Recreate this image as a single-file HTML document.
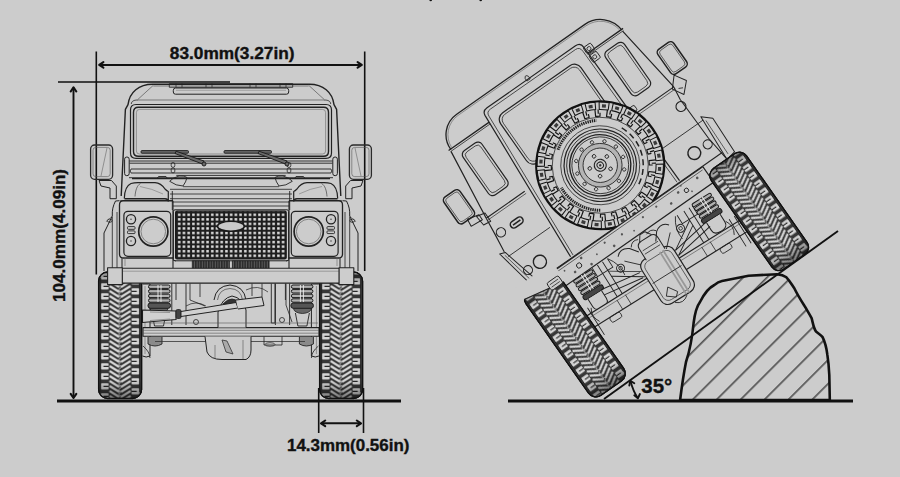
<!DOCTYPE html>
<html><head><meta charset="utf-8">
<style>
html,body{margin:0;padding:0;background:#cccccc;width:900px;height:477px;overflow:hidden}
svg{display:block}
.t{font-family:"Liberation Sans",sans-serif;font-weight:bold;fill:#111;stroke:#111;stroke-width:0.35}
</style></head>
<body>
<svg width="900" height="477" viewBox="0 0 900 477">
<defs>
<pattern id="hatch" patternUnits="userSpaceOnUse" width="16.9" height="16.9" patternTransform="translate(715,400) rotate(45)">
<rect x="0" y="0" width="1.7" height="16.9" fill="#555"/>
</pattern>

<pattern id="grillep" patternUnits="userSpaceOnUse" x="176.9" y="212.6" width="4.72" height="4.55">
<rect x="0" y="0" width="4.72" height="4.55" fill="#1e1e1e"/>
<rect x="1.1" y="1.0" width="2.5" height="2.4" fill="#e6e6e6"/>
</pattern>
<pattern id="ventp" patternUnits="userSpaceOnUse" x="0" y="0" width="2.6" height="10">
<rect width="2.6" height="10" fill="#2a2a2a"/>
<rect x="1.6" width="0.8" height="10" fill="#6a6a6a"/>
</pattern>

<pattern id="tread" patternUnits="userSpaceOnUse" x="0" y="0" width="43" height="10">
<rect width="43" height="10" fill="#383838"/>
<g fill="#d6d6d6">
<rect x="2.2" y="1.2" width="7.8" height="6.4" rx="0.8"/>
<rect x="33" y="6.2" width="7.8" height="6.4" rx="0.8"/>
<rect x="33" y="-3.8" width="7.8" height="6.4" rx="0.8"/>
</g>
<path d="M4.8,4.4 H10 M33,9.4 H38.2 M33,-0.6 H38.2" stroke="#2a2a2a" stroke-width="1.2"/>
<g stroke="#d6d6d6" stroke-width="2.2" fill="none" stroke-linecap="butt">
<path d="M11,-6 L20.6,0 M11,-1 L20.6,5 M11,4 L20.6,10 M11,9 L20.6,15 M22.4,0 L32,-6 M22.4,5 L32,-1 M22.4,10 L32,4 M22.4,15 L32,9"/>
</g>
<path d="M21.5,0 L20.3,2.5 L22.7,5 L20.3,7.5 L21.5,10" stroke="#cfcfcf" stroke-width="0.9" fill="none"/>
</pattern>
<linearGradient id="tshade" x1="0" y1="0" x2="0" y2="1">
<stop offset="0" stop-color="#000" stop-opacity="0.35"/>
<stop offset="0.12" stop-color="#000" stop-opacity="0"/>
<stop offset="0.85" stop-color="#000" stop-opacity="0"/>
<stop offset="1" stop-color="#000" stop-opacity="0.45"/>
</linearGradient>
<g id="tire">
<rect x="0" y="0" width="43" height="126.5" rx="9" fill="url(#tread)"/>
<rect x="0" y="0" width="43" height="126.5" rx="9" fill="url(#tshade)"/>
<rect x="0" y="0" width="43" height="126.5" rx="9" fill="none" stroke="#111" stroke-width="1.3"/>
<path d="M2,6 V120 M41,6 V120" stroke="#222" stroke-width="0.9" fill="none"/>
</g>
</defs>
<rect width="900" height="477" fill="#cccccc"/>

<!-- ===== DIMENSIONS LEFT ===== -->
<g stroke="#111" fill="none" stroke-width="1.6">
<line x1="96.3" y1="51.5" x2="96.3" y2="274.5"/>
<line x1="364.7" y1="51.5" x2="364.7" y2="271"/>
<line x1="99" y1="64.9" x2="362" y2="64.9" stroke-width="2"/>
<line x1="58" y1="82" x2="230" y2="82"/>
<line x1="73.5" y1="87.5" x2="73.5" y2="397.5" stroke-width="1.9"/>
<line x1="318.7" y1="388" x2="318.7" y2="433"/>
<line x1="363.5" y1="388" x2="363.5" y2="433"/>
<line x1="321" y1="423.3" x2="361" y2="423.3" stroke-width="2"/>
</g>
<g stroke="#111" fill="none" stroke-width="2.1" stroke-linejoin="round" stroke-linecap="round">
<polyline points="103.4,62.1 99.2,64.9 103.4,67.7"/>
<polyline points="357.6,62.1 361.8,64.9 357.6,67.7"/>
<polyline points="70.7,91.5 73.5,87.3 76.3,91.5"/>
<polyline points="70.7,393.8 73.5,398 76.3,393.8"/>
<polyline points="325.2,420.5 321,423.3 325.2,426.1"/>
<polyline points="356.8,420.5 361,423.3 356.8,426.1"/>
</g>
<line x1="57" y1="401" x2="401" y2="401" stroke="#111" stroke-width="2.8"/>
<text class="t" x="0" y="0" font-size="16" transform="translate(169.8,59.2) scale(1.08,1)">83.0mm(3.27in)</text>
<text class="t" x="0" y="0" font-size="16" transform="translate(287,450.7) scale(1.06,1)">14.3mm(0.56in)</text>
<text class="t" x="0" y="0" font-size="16" transform="translate(65.2,302) rotate(-90) scale(1.07,1)">104.0mm(4.09in)</text>


<!-- ===== FRONT VIEW ===== -->
<g id="front" fill="none" stroke="#222" stroke-width="1" stroke-linejoin="round" stroke-linecap="butt">
 <g id="fhalf">
  <!-- roof -->
  <path d="M231,84.2 H152.7 C139,84.2 129.5,92 128,104.7 L125.4,109.3 L121.2,196" stroke-width="1.4"/>
  <path d="M231,86 H153.3 M153.3,85.3 L138,99.3 M138,100 H231" stroke-width="0.7" stroke="#555"/>
  <path d="M131.3,104 C131.5,101 134,100 138,100" stroke-width="0.8"/>
  <!-- windshield frame -->
  <path d="M231,104.5 H136 Q130.5,104.5 130.5,110 V153 Q130.5,158.3 136,158.3 H231" stroke-width="1.2"/>
  <path d="M231,107.3 H138.5 Q133.5,107.3 133.5,112.3 V151.5 Q133.5,156.3 138.5,156.3 H231" stroke-width="1.4"/>
  <path d="M231,109.4 H139.5 Q136.4,109.4 136.4,112.5 V151 Q136.4,154 139.5,154 H231" stroke-width="0.6" stroke="#666"/>
  <!-- roof vent -->
  <path d="M231,88 H175.5 Q173.3,88 173.3,90.5 V92 Q173.3,94.2 175.5,94.2 H231" stroke-width="1"/>
  <path d="M231,90.3 H176" stroke-width="0.5" stroke="#777"/>
  <path d="M231,83.6 H169.3 V87.3 H231" stroke-width="0.8"/>
  <path d="M176,83.6 V87.3 M182,83.6 V87.3 M206,83.6 V87.3 M212,83.6 V87.3" stroke-width="0.7"/>
  <!-- mirror -->
  <rect x="90.6" y="145" width="22" height="34.3" rx="4" stroke-width="1.3" stroke="#2a2a2a"/>
  <rect x="93" y="147.4" width="17.2" height="29.2" rx="2.8" stroke-width="0.6" stroke="#555"/>
  <path d="M107,148 L101,176" stroke-width="0.6" stroke="#666"/>
  <path d="M99,180.5 H111.5 L116.3,186 V198.7 H110 V188 L101,186 Z" stroke-width="1"/>
  <!-- hinge -->
  <rect x="124.6" y="157" width="4.6" height="18.7" rx="2.2" stroke-width="1"/>
  <!-- cowl -->
  <path d="M129.5,161 H231 M129.5,163.2 H231 M131,169 H231 M131,173 H231 M129,177.7 H231" stroke-width="0.9"/>
  <path d="M131,169 Q129.5,171 131,173" stroke-width="0.8"/>
  <rect x="171.2" y="162.5" width="3.6" height="4.8" rx="1.6" stroke-width="0.8"/>
  <rect x="171.2" y="168" width="3.6" height="4.8" rx="1.6" stroke-width="0.8"/>
  <!-- bonnet & wing -->
  <path d="M124.3,198.5 C124.5,191 126.5,185.5 131,183.5 Q134,182.6 138,182.6 H155 C160,182.8 163,186 165,189 Q167,191 168.3,191.5 V201.5" stroke-width="1.2"/>
  <path d="M135,196.5 C135.5,190 137,185.5 140.5,183.4" stroke-width="0.7" stroke="#444"/>
  <path d="M140,186.5 Q152,188.5 163,194" stroke-width="0.5" stroke="#666"/>
  <path d="M124.5,198.8 H165 Q168,199 168.5,201" stroke-width="1.6"/>
  <path d="M120,200.9 H172.5" stroke-width="0.9"/>
  <path d="M132,178.6 H231" stroke-width="1.2"/>
  <path d="M176.3,175.4 H231" stroke-width="0.9"/>
  <path d="M183,186.7 H231 M170,189.3 H231 M170,194 H231 M170,198.7 H231 M172.3,202 H231 M173,206 H231" stroke-width="0.8"/>
  <path d="M172.3,191 V210" stroke-width="0.9"/>
  <path d="M169.7,181.3 Q172,178 179,176 Q185,175.5 187,177.5 Q186,182 183,186 Q176,186 169.7,181.3 Z" stroke-width="0.9"/>
  <path d="M157,178.6 L158.5,176.5 H166 L167.5,178.6" stroke-width="0.9"/>
  <!-- headlight surround -->
  <path d="M173,258 H123.5 Q119.5,258 119.5,254 V205 Q119.5,200.7 123.5,200.7 H173" stroke-width="1.3"/>
  <path d="M173,200.7 V268.3" stroke-width="1.1"/>
  <rect x="123.9" y="211.3" width="46.8" height="45" rx="4" stroke-width="1.2"/>
  <path d="M125,256.7 V266 M122,258 V268.3" stroke-width="0.6" stroke="#666"/>
  <circle cx="153.3" cy="231.5" r="14.6" stroke-width="1.7"/>
  <circle cx="153.3" cy="231.5" r="12.3" stroke-width="0.7" stroke="#666"/>
  <circle cx="131" cy="219.3" r="4.6" stroke-width="1.3"/>
  <circle cx="131" cy="241" r="4.6" stroke-width="1.3"/>
  <circle cx="131" cy="219.3" r="0.7" fill="#333" stroke="none"/>
  <circle cx="131" cy="241" r="0.7" fill="#333" stroke="none"/>
  <rect x="127.5" y="226.6" width="7.5" height="2.7" rx="0.8" stroke-width="0.9"/>
  <rect x="127.5" y="230.9" width="7.5" height="2.7" rx="0.8" stroke-width="0.9"/>
  <!-- grille surround -->
  <path d="M231,209.8 H175 Q173.4,209.8 173.4,211.5 V259.5 Q173.4,260.8 175,260.8 H231" stroke-width="1"/>
  <!-- body side -->
  <path d="M119.5,200.7 L115.5,201 C113,206 112,210 112.3,216 L104,233 V271" stroke-width="1"/>
  <path d="M112.3,217 V268 M117,212 V268" stroke-width="0.8"/>
  <path d="M112.3,216 C111,218 108,219 106,222" stroke-width="0.6" stroke="#555"/>
  <ellipse cx="109.7" cy="220.7" rx="2.4" ry="1.6" stroke-width="0.8"/>
  <!-- apron -->
  <path d="M122,258 V268.3 M173,260 L176,261" stroke-width="0.8"/>
 </g>
 <use href="#fhalf" transform="matrix(-1,0,0,1,462,0)"/>


<!-- wipers -->
<g stroke="#1a1a1a" fill="#6a6a6a">
<rect x="141" y="150.6" width="47.5" height="2.6" rx="1" stroke-width="0.9"/>
<path d="M176,151.2 L204,161 L202.5,164 L175,153.5 Z" stroke-width="0.9"/>
<circle cx="204" cy="164" r="2" stroke-width="0.9"/>
<rect x="224" y="150.6" width="47.5" height="2.6" rx="1" stroke-width="0.9"/>
<path d="M259,151.2 L287,161 L285.5,164 L258,153.5 Z" stroke-width="0.9"/>
<circle cx="287" cy="164" r="2" stroke-width="0.9"/>
</g>
<!-- grille (full) -->
<rect x="175.6" y="211.2" width="110.6" height="47.8" rx="1.5" fill="url(#grillep)" stroke="#1a1a1a" stroke-width="1.2"/>
<ellipse cx="230.9" cy="226.3" rx="13.4" ry="5" fill="#c9c9c9" stroke="#1a1a1a" stroke-width="1.6"/>
<rect x="192.3" y="260.8" width="37.1" height="8.6" fill="url(#ventp)" stroke="#222" stroke-width="0.8"/>
<rect x="232.4" y="260.8" width="36.7" height="8.6" fill="url(#ventp)" stroke="#222" stroke-width="0.8"/>


<!-- underside -->
<g id="uhalf">
 <!-- hub / knuckle -->
 <path d="M142.5,284 H150 V356 Q146,358 142.5,356" stroke-width="1"/>
 <path d="M145,286 V354" stroke="#666" stroke-width="0.6"/>
 <!-- chassis rail behind spring -->
 <path d="M171.8,283.5 V325 M186,283.5 V325 M176,283.5 V300" stroke-width="0.9"/>
 <!-- spring -->
 <g stroke="#1a1a1a">
 <rect x="148.5" y="285" width="21.5" height="3.4" rx="1.6" fill="#b0b0b0" stroke-width="1"/>
 <rect x="148.5" y="289.6" width="21.5" height="3.4" rx="1.6" fill="#b0b0b0" stroke-width="1"/>
 <rect x="148.5" y="294.2" width="21.5" height="3.4" rx="1.6" fill="#b0b0b0" stroke-width="1"/>
 <rect x="148.5" y="298.8" width="21.5" height="3.4" rx="1.6" fill="#b0b0b0" stroke-width="1"/>
 <rect x="148" y="303" width="22.5" height="5.3" rx="2.4" fill="#555" stroke-width="1"/>
 </g>
 <path d="M158,285 V302 M161,285 V302" stroke="#eee" stroke-width="0.9"/>
 <!-- shock below spring -->
 <path d="M152,313 L154.5,326 H163.5 L166,313" stroke-width="0.9"/>
 <!-- axle stub / lower bump -->
 <path d="M148,337 V344 Q155,348 162,344 V337" fill="#8a8a8a" stroke-width="0.9"/>
 <path d="M150,308.5 Q151,313 159,313.5 Q167,313 168,308.5 Z" fill="#666" stroke-width="0.8"/>
 <path d="M143,346 Q150,352 150,358" stroke-width="0.8"/>
</g>
<use href="#uhalf" transform="matrix(-1,0,0,1,461.4,0)"/>
<!-- axle -->
<rect x="143" y="327.6" width="176" height="8.6" fill="#cfcfcf" stroke="#222" stroke-width="1.1"/>
<path d="M143,330.3 H319 M143,333.2 H319" stroke="#555" stroke-width="0.6"/>
<path d="M155,341.5 H305" stroke="#333" stroke-width="0.8"/>
<!-- diff -->
<path d="M205,336.5 L207,352 Q210,359.5 222,359.5 H246 Q251,357 251,350 V336.5" fill="#cbcbcb" stroke="#222" stroke-width="1"/>
<path d="M222,340 L226,352 L233,354 L227,341 Z" fill="#aaa" stroke="#333" stroke-width="0.8"/>
<path d="M215,359 V345 M243,359 V340" stroke="#555" stroke-width="0.6"/>
<path d="M264,336.5 V345 H282 V336.5" stroke-width="0.8"/>
<ellipse cx="270" cy="344.5" rx="5" ry="1.8" stroke-width="0.7"/>
<!-- diff top (pumpkin) -->
<path d="M218,327.6 V312 Q222,298 232,296 Q243,298 246,310 V327.6" fill="#cdcdcd" stroke="#222" stroke-width="1"/>
<path d="M223,304 Q232,294 241,304 Z" fill="#333" stroke="#222" stroke-width="0.8"/>
<path d="M214,300 Q216,286 230,285 Q244,286 246,300" fill="none" stroke="#222" stroke-width="1"/>
<path d="M217.5,300 Q219,289 230,288.5 Q241,289 242.5,300" fill="none" stroke="#444" stroke-width="0.7"/>
<!-- track rod -->
<path d="M142.5,310 L176,311 L176,319.5 L142.5,322.5 Z" fill="#d0d0d0" stroke="#222" stroke-width="1.1"/>
<path d="M150,312 L170,312.5 M150,320.5 L170,319" stroke="#666" stroke-width="0.6"/>
<rect x="176" y="309.5" width="5" height="9" rx="1.5" fill="#444" stroke="#222" stroke-width="0.8"/>
<path d="M181,311.5 L236,302.5 L238,308 L181,316.5 Z" fill="#d0d0d0" stroke="#222" stroke-width="1"/>
<path d="M236,300 L262,297 L264,305.5 L238,309" fill="#d0d0d0" stroke="#222" stroke-width="1"/>
<!-- central vertical rod & bits -->
<path d="M271.3,283.5 V323 H275 V283.5" stroke-width="0.9"/>
<path d="M190,283.5 V300 L205,306 M200,283.5 V297 M252,283.5 V296 M262,283.5 V297 M286,283.5 V305 L292,322" stroke-width="0.8"/>
<path d="M186,306 Q196,300 206,306 M246,290 Q258,284 268,292" stroke-width="0.7"/>
<circle cx="196" cy="322" r="2.5" stroke-width="0.8"/>
<circle cx="282" cy="320" r="2.5" stroke-width="0.8"/>
<path d="M150,323 H318" stroke="#555" stroke-width="0.6"/>
<!-- tires -->
<use href="#tire" transform="translate(98.6,272)"/>
<use href="#tire" transform="translate(319.6,272)"/>
<!-- bumper -->
<rect x="122" y="268.3" width="217.4" height="14.8" fill="#cdcdcd" stroke="#222" stroke-width="1.1"/>
<path d="M122,271.2 H339.4" stroke="#777" stroke-width="0.6"/>
<rect x="107.6" y="267.8" width="14.7" height="16.8" fill="#cdcdcd" stroke="#222" stroke-width="1.1"/>
<rect x="339.1" y="267.8" width="14.7" height="16.8" fill="#cdcdcd" stroke="#222" stroke-width="1.1"/>
</g>

<!-- ===== RIGHT SCENE ===== -->
<!-- ===== REAR VIEW (rotated) ===== -->
<g id="rear" transform="translate(600.25,165.25) rotate(-35) translate(-239.8,-210)" fill="none" stroke="#222" stroke-width="1" stroke-linejoin="round">
 <!-- roof -->
 <path d="M126.5,111.5 A25,25 0 0 1 151.5,85.8 H308 A27,27 0 0 1 335,111.5" stroke-width="1.3" fill="#cccccc"/>
 <path d="M128.3,110 A23.5,23.5 0 0 1 151.5,87.6 H308 A25.3,25.3 0 0 1 333.2,110" stroke-width="0.5" stroke="#555"/>
 <path d="M124,111 H173.6 M294.2,111 H337" stroke-width="1.3"/>
 <path d="M125,113 H173.4 M294.4,113 H336" stroke-width="0.7"/>
 <!-- upper body sides -->
 <path d="M125.5,113 L116,188 M335,113 L345,188" stroke-width="1.2"/>
 <!-- quarter windows -->
 <rect x="132" y="120" width="23" height="54" rx="5" stroke-width="1.2"/>
 <rect x="134.5" y="122.5" width="18" height="49" rx="4" stroke-width="0.7"/>
 <rect x="306" y="120" width="23" height="54" rx="5" stroke-width="1.2"/>
 <rect x="308.5" y="122.5" width="18" height="49" rx="4" stroke-width="0.7"/>
 <!-- door -->
 <path d="M163,268 L174,103 Q174.5,98 180,98 H288 Q294,98 294,104 L296,268" stroke-width="1.2"/>
 <path d="M166,268 L176.8,106 Q177,101 182,101 H286 Q291,101 291,107 L293,268" stroke-width="0.7"/>
 <rect x="182" y="111" width="98" height="61" rx="8" stroke-width="1.2"/>
 <rect x="184.5" y="113.5" width="93" height="56" rx="6.5" stroke-width="0.7"/>
 <path d="M228,96 Q230,92 232,96 L232,99 H228 Z" stroke-width="0.8"/>
 <!-- hinges right of door -->
 <rect x="293" y="104" width="9" height="8" rx="1.5" stroke-width="0.9"/>
 <circle cx="297.5" cy="108" r="2" stroke-width="0.8"/>
 <rect x="293" y="114" width="9" height="8" rx="1.5" stroke-width="0.9"/>
 <circle cx="297.5" cy="118" r="2" stroke-width="0.8"/>
 <rect x="294" y="180" width="8" height="6" rx="1.5" stroke-width="0.9"/>
 <!-- belt line & lower body -->
 <path d="M116,188 H163 M296,188 H345" stroke-width="1.1"/>
 <path d="M116,190.5 H163 M296,190.5 H345" stroke-width="0.6"/>
 <path d="M116,188 L114,206 L111.5,226 M345,188 L343,202 L344,250 L347,277" stroke-width="1.1"/>
 <path d="M106.5,225 L112,227 L122,268 L115,269.5 Z" stroke-width="1"/>
 <path d="M110,229 L117.5,266" stroke-width="0.6"/>
 <path d="M115,269.5 H347" stroke-width="1.1"/>
 <path d="M112,232 H163 M296,232 H350" stroke-width="0.8"/>
 <!-- tail lights -->
 <circle cx="120" cy="208" r="4.6" stroke-width="1.1"/>
 <rect x="131.5" y="205.5" width="14" height="7" rx="3.5" stroke-width="1.5"/>
 <path d="M134,209 H143" stroke-width="1.6"/>
 <circle cx="135" cy="254.5" r="6.6" stroke-width="1.4"/>
 <circle cx="120.5" cy="254.4" r="4.5" stroke-width="1.1"/>
 <circle cx="339.6" cy="208.2" r="5" stroke-width="1.1"/>
 <circle cx="323.8" cy="254" r="6.4" stroke-width="1.4"/>
 <circle cx="339.8" cy="254.5" r="4.5" stroke-width="1.1"/>
 <!-- mirrors -->
 <rect x="90.5" y="147" width="19.5" height="32" rx="4" stroke-width="1.5"/>
 <rect x="92.5" y="149" width="15.5" height="28" rx="3" stroke-width="0.6"/>
 <path d="M100,178 L112,181 L112,187 L99,186 Z" stroke-width="1"/>
 <path d="M109,181 L118,183 L118,193 L110,192 Z" stroke-width="1"/>
 <rect x="350.5" y="148.5" width="19.5" height="30" rx="4" stroke-width="1.5"/>
 <rect x="352.5" y="150.5" width="15.5" height="26" rx="3" stroke-width="0.6"/>
 <path d="M352,178.5 L359,190 L349,200 L342.5,189 Z" stroke-width="1"/>
 <path d="M348,192 L352,194" stroke-width="0.8"/>
 <!-- right side light strip -->
 <path d="M350,228 L359,236 L357.5,276 L347,278 Z" stroke-width="1"/>
 <path d="M352,234 L351,274" stroke-width="0.6"/>

 <!-- spare tire -->
 <g id="spare">
 <circle cx="239.8" cy="210" r="64" fill="#cccccc" stroke="#111" stroke-width="2"/>
 <path d="M295.4,205.5 L302.8,204.9 A63.2,63.2 0 0 1 302.8,215.1 L295.4,214.5 A55.8,55.8 0 0 0 295.4,205.5Z M295.0,218.0 L302.3,219.1 A63.2,63.2 0 0 1 300.1,229.0 L293.0,226.7 A55.8,55.8 0 0 0 295.0,218.0Z M291.9,230.1 L298.8,232.8 A63.2,63.2 0 0 1 294.4,241.9 L288.0,238.2 A55.8,55.8 0 0 0 291.9,230.1Z M286.1,241.2 L292.2,245.3 A63.2,63.2 0 0 1 285.9,253.2 L280.5,248.2 A55.8,55.8 0 0 0 286.1,241.2Z M278.0,250.7 L283.0,256.1 A63.2,63.2 0 0 1 275.1,262.4 L271.0,256.3 A55.8,55.8 0 0 0 278.0,250.7Z M268.0,258.2 L271.7,264.6 A63.2,63.2 0 0 1 262.6,269.0 L259.9,262.1 A55.8,55.8 0 0 0 268.0,258.2Z M256.5,263.2 L258.8,270.3 A63.2,63.2 0 0 1 248.9,272.5 L247.8,265.2 A55.8,55.8 0 0 0 256.5,263.2Z M244.3,265.6 L244.9,273.0 A63.2,63.2 0 0 1 234.7,273.0 L235.3,265.6 A55.8,55.8 0 0 0 244.3,265.6Z M231.8,265.2 L230.7,272.5 A63.2,63.2 0 0 1 220.8,270.3 L223.1,263.2 A55.8,55.8 0 0 0 231.8,265.2Z M219.7,262.1 L217.0,269.0 A63.2,63.2 0 0 1 207.9,264.6 L211.6,258.2 A55.8,55.8 0 0 0 219.7,262.1Z M208.6,256.3 L204.5,262.4 A63.2,63.2 0 0 1 196.6,256.1 L201.6,250.7 A55.8,55.8 0 0 0 208.6,256.3Z M199.1,248.2 L193.7,253.2 A63.2,63.2 0 0 1 187.4,245.3 L193.5,241.2 A55.8,55.8 0 0 0 199.1,248.2Z M191.6,238.2 L185.2,241.9 A63.2,63.2 0 0 1 180.8,232.8 L187.7,230.1 A55.8,55.8 0 0 0 191.6,238.2Z M186.6,226.7 L179.5,229.0 A63.2,63.2 0 0 1 177.3,219.1 L184.6,218.0 A55.8,55.8 0 0 0 186.6,226.7Z M184.2,214.5 L176.8,215.1 A63.2,63.2 0 0 1 176.8,204.9 L184.2,205.5 A55.8,55.8 0 0 0 184.2,214.5Z M184.6,202.0 L177.3,200.9 A63.2,63.2 0 0 1 179.5,191.0 L186.6,193.3 A55.8,55.8 0 0 0 184.6,202.0Z M187.7,189.9 L180.8,187.2 A63.2,63.2 0 0 1 185.2,178.1 L191.6,181.8 A55.8,55.8 0 0 0 187.7,189.9Z M193.5,178.8 L187.4,174.7 A63.2,63.2 0 0 1 193.7,166.8 L199.1,171.8 A55.8,55.8 0 0 0 193.5,178.8Z M201.6,169.3 L196.6,163.9 A63.2,63.2 0 0 1 204.5,157.6 L208.6,163.7 A55.8,55.8 0 0 0 201.6,169.3Z M211.6,161.8 L207.9,155.4 A63.2,63.2 0 0 1 217.0,151.0 L219.7,157.9 A55.8,55.8 0 0 0 211.6,161.8Z M223.1,156.8 L220.8,149.7 A63.2,63.2 0 0 1 230.7,147.5 L231.8,154.8 A55.8,55.8 0 0 0 223.1,156.8Z M235.3,154.4 L234.7,147.0 A63.2,63.2 0 0 1 244.9,147.0 L244.3,154.4 A55.8,55.8 0 0 0 235.3,154.4Z M247.8,154.8 L248.9,147.5 A63.2,63.2 0 0 1 258.8,149.7 L256.5,156.8 A55.8,55.8 0 0 0 247.8,154.8Z M259.9,157.9 L262.6,151.0 A63.2,63.2 0 0 1 271.7,155.4 L268.0,161.8 A55.8,55.8 0 0 0 259.9,157.9Z M271.0,163.7 L275.1,157.6 A63.2,63.2 0 0 1 283.0,163.9 L278.0,169.3 A55.8,55.8 0 0 0 271.0,163.7Z M280.5,171.8 L285.9,166.8 A63.2,63.2 0 0 1 292.2,174.7 L286.1,178.8 A55.8,55.8 0 0 0 280.5,171.8Z M288.0,181.8 L294.4,178.1 A63.2,63.2 0 0 1 298.8,187.2 L291.9,189.9 A55.8,55.8 0 0 0 288.0,181.8Z M293.0,193.3 L300.1,191.0 A63.2,63.2 0 0 1 302.3,200.9 L295.0,202.0 A55.8,55.8 0 0 0 293.0,193.3Z" stroke="#151515" stroke-width="1.05"/>
 <path d="M297.6,208.1 L300.8,208.0 A61,61 0 0 1 300.8,212.0 L297.6,211.9 A57.8,57.8 0 0 0 297.6,208.1Z M296.5,221.0 L299.7,221.6 A61,61 0 0 1 298.8,225.5 L295.7,224.7 A57.8,57.8 0 0 0 296.5,221.0Z M292.7,233.3 L295.6,234.6 A61,61 0 0 1 293.9,238.3 L291.0,236.8 A57.8,57.8 0 0 0 292.7,233.3Z M286.2,244.5 L288.7,246.4 A61,61 0 0 1 286.2,249.6 L283.8,247.5 A57.8,57.8 0 0 0 286.2,244.5Z M277.3,254.0 L279.4,256.4 A61,61 0 0 1 276.2,258.9 L274.3,256.4 A57.8,57.8 0 0 0 277.3,254.0Z M266.6,261.2 L268.1,264.1 A61,61 0 0 1 264.4,265.8 L263.1,262.9 A57.8,57.8 0 0 0 266.6,261.2Z M254.5,265.9 L255.3,269.0 A61,61 0 0 1 251.4,269.9 L250.8,266.7 A57.8,57.8 0 0 0 254.5,265.9Z M241.7,267.8 L241.8,271.0 A61,61 0 0 1 237.8,271.0 L237.9,267.8 A57.8,57.8 0 0 0 241.7,267.8Z M228.8,266.7 L228.2,269.9 A61,61 0 0 1 224.3,269.0 L225.1,265.9 A57.8,57.8 0 0 0 228.8,266.7Z M216.5,262.9 L215.2,265.8 A61,61 0 0 1 211.5,264.1 L213.0,261.2 A57.8,57.8 0 0 0 216.5,262.9Z M205.3,256.4 L203.4,258.9 A61,61 0 0 1 200.2,256.4 L202.3,254.0 A57.8,57.8 0 0 0 205.3,256.4Z M195.8,247.5 L193.4,249.6 A61,61 0 0 1 190.9,246.4 L193.4,244.5 A57.8,57.8 0 0 0 195.8,247.5Z M188.6,236.8 L185.7,238.3 A61,61 0 0 1 184.0,234.6 L186.9,233.3 A57.8,57.8 0 0 0 188.6,236.8Z M183.9,224.7 L180.8,225.5 A61,61 0 0 1 179.9,221.6 L183.1,221.0 A57.8,57.8 0 0 0 183.9,224.7Z M182.0,211.9 L178.8,212.0 A61,61 0 0 1 178.8,208.0 L182.0,208.1 A57.8,57.8 0 0 0 182.0,211.9Z M183.1,199.0 L179.9,198.4 A61,61 0 0 1 180.8,194.5 L183.9,195.3 A57.8,57.8 0 0 0 183.1,199.0Z M186.9,186.7 L184.0,185.4 A61,61 0 0 1 185.7,181.7 L188.6,183.2 A57.8,57.8 0 0 0 186.9,186.7Z M193.4,175.5 L190.9,173.6 A61,61 0 0 1 193.4,170.4 L195.8,172.5 A57.8,57.8 0 0 0 193.4,175.5Z M202.3,166.0 L200.2,163.6 A61,61 0 0 1 203.4,161.1 L205.3,163.6 A57.8,57.8 0 0 0 202.3,166.0Z M213.0,158.8 L211.5,155.9 A61,61 0 0 1 215.2,154.2 L216.5,157.1 A57.8,57.8 0 0 0 213.0,158.8Z M225.1,154.1 L224.3,151.0 A61,61 0 0 1 228.2,150.1 L228.8,153.3 A57.8,57.8 0 0 0 225.1,154.1Z M237.9,152.2 L237.8,149.0 A61,61 0 0 1 241.8,149.0 L241.7,152.2 A57.8,57.8 0 0 0 237.9,152.2Z M250.8,153.3 L251.4,150.1 A61,61 0 0 1 255.3,151.0 L254.5,154.1 A57.8,57.8 0 0 0 250.8,153.3Z M263.1,157.1 L264.4,154.2 A61,61 0 0 1 268.1,155.9 L266.6,158.8 A57.8,57.8 0 0 0 263.1,157.1Z M274.3,163.6 L276.2,161.1 A61,61 0 0 1 279.4,163.6 L277.3,166.0 A57.8,57.8 0 0 0 274.3,163.6Z M283.8,172.5 L286.2,170.4 A61,61 0 0 1 288.7,173.6 L286.2,175.5 A57.8,57.8 0 0 0 283.8,172.5Z M291.0,183.2 L293.9,181.7 A61,61 0 0 1 295.6,185.4 L292.7,186.7 A57.8,57.8 0 0 0 291.0,183.2Z M295.7,195.3 L298.8,194.5 A61,61 0 0 1 299.7,198.4 L296.5,199.0 A57.8,57.8 0 0 0 295.7,195.3Z" fill="#3a3a3a" stroke="none"/>
 <path d="M295.5,213.7 L288.7,213.3 L288.2,217.7 L291.6,218.2 M295.2,216.8 L290.9,216.3 M293.3,226.0 L286.7,224.1 L285.3,228.3 L288.5,229.6 M292.3,229.0 L288.2,227.5 M288.3,237.5 L282.4,234.2 L280.1,237.9 L282.9,239.9 M286.7,240.2 L283.1,237.9 M281.0,247.6 L276.0,243.0 L272.8,246.2 L275.2,248.8 M278.8,249.9 L275.8,246.8 M271.6,255.9 L267.7,250.3 L264.0,252.6 L265.7,255.7 M269.0,257.6 L266.7,253.9 M260.6,261.8 L258.1,255.5 L253.9,256.9 L254.9,260.3 M257.7,262.9 L256.3,258.8 M248.6,265.1 L247.5,258.4 L243.1,258.9 L243.3,262.4 M245.5,265.5 L245.0,261.2 M236.1,265.7 L236.5,258.9 L232.1,258.4 L231.6,261.8 M233.0,265.4 L233.5,261.1 M223.8,263.5 L225.7,256.9 L221.5,255.5 L220.2,258.7 M220.8,262.5 L222.3,258.4 M212.3,258.5 L215.6,252.6 L211.9,250.3 L209.9,253.1 M209.6,256.9 L211.9,253.3 M202.2,251.2 L206.8,246.2 L203.6,243.0 L201.0,245.4 M199.9,249.0 L203.0,246.0 M193.9,241.8 L199.5,237.9 L197.2,234.2 L194.1,235.9 M192.2,239.2 L195.9,236.9 M188.0,230.8 L194.3,228.3 L192.9,224.1 L189.5,225.1 M186.9,227.9 L191.0,226.5 M184.7,218.8 L191.4,217.7 L190.9,213.3 L187.4,213.5 M184.3,215.7 L188.6,215.2 M184.1,206.3 L190.9,206.7 L191.4,202.3 L188.0,201.8 M184.4,203.2 L188.7,203.7 M186.3,194.0 L192.9,195.9 L194.3,191.7 L191.1,190.4 M187.3,191.0 L191.4,192.5 M191.3,182.5 L197.2,185.8 L199.5,182.1 L196.7,180.1 M192.9,179.8 L196.5,182.1 M198.6,172.4 L203.6,177.0 L206.8,173.8 L204.4,171.2 M200.8,170.1 L203.8,173.2 M208.0,164.1 L211.9,169.7 L215.6,167.4 L213.9,164.3 M210.6,162.4 L212.9,166.1 M219.0,158.2 L221.5,164.5 L225.7,163.1 L224.7,159.7 M221.9,157.1 L223.3,161.2 M231.0,154.9 L232.1,161.6 L236.5,161.1 L236.3,157.6 M234.1,154.5 L234.6,158.8 M243.5,154.3 L243.1,161.1 L247.5,161.6 L248.0,158.2 M246.6,154.6 L246.1,158.9 M255.8,156.5 L253.9,163.1 L258.1,164.5 L259.4,161.3 M258.8,157.5 L257.3,161.6 M267.3,161.5 L264.0,167.4 L267.7,169.7 L269.7,166.9 M270.0,163.1 L267.7,166.7 M277.4,168.8 L272.8,173.8 L276.0,177.0 L278.6,174.6 M279.7,171.0 L276.6,174.0 M285.7,178.2 L280.1,182.1 L282.4,185.8 L285.5,184.1 M287.4,180.8 L283.7,183.1 M291.6,189.2 L285.3,191.7 L286.7,195.9 L290.1,194.9 M292.7,192.1 L288.6,193.5 M294.9,201.2 L288.2,202.3 L288.7,206.7 L292.2,206.5 M295.3,204.3 L291.0,204.8" stroke="#151515" stroke-width="1.2"/>
 <circle cx="239.8" cy="210" r="48" stroke-width="0.7"/>
 <path d="M214.0,173.1 A45,45 0 0 1 262.3,171.0 M214.0,246.9 A45,45 0 0 1 195.0,206.1" stroke="#222" stroke-width="3" stroke-dasharray="1.4 0.8"/>
 <path d="M278.8,191.8 A43,43 0 0 1 280.9,197.4 M281.9,201.1 A43,43 0 0 1 282.7,207.0 M282.8,210.8 A43,43 0 0 1 282.3,216.7 M281.5,220.4 A43,43 0 0 1 279.7,226.1 M278.1,229.5 A43,43 0 0 1 275.0,234.7 M272.7,237.6 A43,43 0 0 1 268.6,242.0 M265.7,244.3 A43,43 0 0 1 260.6,247.6" stroke="#222" stroke-width="1.5"/>
 <circle cx="239.8" cy="210" r="39.5" stroke-width="0.7"/>
 <circle cx="239.8" cy="210" r="36.2" stroke-width="1.2"/>
 <circle cx="239.8" cy="210" r="33.6" stroke-width="0.8"/>
 <circle cx="239.8" cy="210" r="30.6" stroke-width="1.4"/>
 <circle cx="239.8" cy="210" r="28.4" stroke-width="0.8"/>
 <g stroke-width="0.8"><circle cx="263.3" cy="216.3" r="1.7"/><circle cx="257.0" cy="227.2" r="1.7"/><circle cx="246.1" cy="233.5" r="1.7"/><circle cx="233.5" cy="233.5" r="1.7"/><circle cx="222.6" cy="227.2" r="1.7"/><circle cx="216.3" cy="216.3" r="1.7"/><circle cx="216.3" cy="203.7" r="1.7"/><circle cx="222.6" cy="192.8" r="1.7"/><circle cx="233.5" cy="186.5" r="1.7"/><circle cx="246.1" cy="186.5" r="1.7"/><circle cx="257.0" cy="192.8" r="1.7"/><circle cx="263.3" cy="203.7" r="1.7"/></g>
 <circle cx="239.8" cy="210" r="19.5" stroke="#b4b4b4" stroke-width="4.5"/>
 <circle cx="239.8" cy="210" r="21.8" stroke-width="0.8"/>
 <circle cx="239.8" cy="210" r="17.2" stroke-width="0.8"/>
 <g stroke-width="0.9"><circle cx="239.8" cy="199.1" r="1.8"/><circle cx="250.2" cy="206.6" r="1.8"/><circle cx="246.2" cy="218.8" r="1.8"/><circle cx="233.4" cy="218.8" r="1.8"/><circle cx="229.4" cy="206.6" r="1.8"/></g>
 <circle cx="239.8" cy="210" r="6" stroke-width="1.1"/>
 <circle cx="239.8" cy="210" r="3.2" stroke-width="1"/>
 <circle cx="239.8" cy="210" r="1.2" fill="#333" stroke="none"/>
 </g>
 <!-- rear crossmember -->
 <path d="M138,270 H323 V289 H138 Z" fill="#cccccc" stroke-width="1.2"/>
 <path d="M140,272.5 H321" stroke-width="0.6"/>
 <circle cx="150" cy="276" r="0.9" fill="#555" stroke="none"/><circle cx="158" cy="283" r="1.3" fill="#555" stroke="none"/><circle cx="171" cy="275" r="1.3" fill="#555" stroke="none"/><circle cx="186" cy="281" r="0.9" fill="#555" stroke="none"/><circle cx="199" cy="276" r="1.1" fill="#555" stroke="none"/><circle cx="205" cy="284" r="1.3" fill="#555" stroke="none"/><circle cx="262" cy="276" r="1.1" fill="#555" stroke="none"/><circle cx="276" cy="282" r="1.3" fill="#555" stroke="none"/><circle cx="288" cy="277" r="1.3" fill="#555" stroke="none"/><circle cx="300" cy="284" r="0.9" fill="#555" stroke="none"/><circle cx="312" cy="276" r="1.3" fill="#555" stroke="none"/><circle cx="230" cy="283" r="0.9" fill="#555" stroke="none"/><circle cx="245" cy="277" r="1.1" fill="#555" stroke="none"/><circle cx="218" cy="279" r="1.1" fill="#555" stroke="none"/><circle cx="176" cy="286" r="1.3" fill="#555" stroke="none"/><circle cx="294" cy="273" r="0.9" fill="#555" stroke="none"/>
 <circle cx="165" cy="280" r="2.6" stroke-width="0.9"/>
 <circle cx="296" cy="280" r="2.2" stroke-width="0.9"/>
 <!-- chassis / underside, slightly rotated -->
 <g transform="translate(0,4) rotate(3,235,330)">
  <!-- rails & links -->
  <path d="M178,289 V328 M184,289 V328 M280,289 V328 M286,289 V328" stroke-width="0.9"/>
  <path d="M184,300 L212,318 M280,300 L252,318 M184,306 L212,324 M280,306 L252,324" stroke-width="0.9"/>
  <path d="M190,289 Q198,300 196,312 M270,289 Q262,300 264,312" stroke-width="0.8"/>
  <!-- springs -->
  <g stroke="#1a1a1a" stroke-width="1">
   <rect x="149" y="289.5" width="22" height="3.4" rx="1.6" fill="#b0b0b0"/>
   <rect x="149" y="294" width="22" height="3.4" rx="1.6" fill="#b0b0b0"/>
   <rect x="149" y="298.5" width="22" height="3.4" rx="1.6" fill="#b0b0b0"/>
   <rect x="149" y="303" width="22" height="3.4" rx="1.6" fill="#b0b0b0"/>
   <rect x="148.5" y="307.5" width="23" height="5" rx="2.3" fill="#444"/>
   <rect x="290" y="287.5" width="22" height="3.4" rx="1.6" fill="#b0b0b0"/>
   <rect x="290" y="292" width="22" height="3.4" rx="1.6" fill="#b0b0b0"/>
   <rect x="290" y="296.5" width="22" height="3.4" rx="1.6" fill="#b0b0b0"/>
   <rect x="290" y="301" width="22" height="3.4" rx="1.6" fill="#b0b0b0"/>
   <rect x="289.5" y="305.5" width="23" height="5" rx="2.3" fill="#444"/>
  </g>
  <path d="M159,289 V307 M162,289 V307 M300,287 V305 M303,287 V305" stroke="#eee" stroke-width="0.9"/>
  <!-- bump stops -->
  <path d="M152,313 V322 Q152,328 160,328 Q168,328 168,322 V313" fill="#cccccc" stroke-width="1"/>
  <path d="M293,311 V320 Q293,326 301,326 Q309,326 309,320 V311" fill="#cccccc" stroke-width="1"/>
  <!-- axle -->
  <rect x="138" y="326.5" width="188" height="13.5" fill="#cccccc" stroke-width="1.2"/>
  <path d="M138,329.5 H326" stroke="#555" stroke-width="0.6"/>
  <!-- diff -->
  <rect x="213" y="309" width="38" height="52" rx="8" fill="#cccccc" stroke-width="1.2"/>
  <rect x="216.5" y="312.5" width="31" height="45" rx="6" stroke-width="0.6"/>
  <path d="M238,309 V361 M241.5,309 V361" stroke="#999" stroke-width="1.8"/>
  <path d="M215,334 H249" stroke-width="0.8"/>
  <path d="M220,352 L226,345 L232,354 L228,358 Z" stroke-width="0.8"/>
  <!-- propshaft flange -->
  <path d="M222,311 V298 Q222,292 228,292 H238 Q244,292 244,298 V311" fill="#cccccc" stroke-width="1"/>
  <path d="M224,301 H242 M224,305 H242" stroke-width="0.7"/>
  <path d="M216,292 Q220,286 226,289 M246,291 Q242,286 236,289" stroke-width="0.8"/>

  <!-- extra clutter -->
  <path d="M168,312 L210,318 M168,318 L210,324 M252,318 L294,310 M252,324 L294,316" stroke-width="1"/>
  <path d="M172,289 V299 H190 V289 M272,289 V299 H290 V289" stroke-width="0.9"/>
  <circle cx="196" cy="304" r="4" stroke-width="1"/>
  <circle cx="196" cy="304" r="1.8" stroke-width="0.8"/>
  <circle cx="268" cy="302" r="4" stroke-width="1"/>
  <circle cx="268" cy="302" r="1.8" stroke-width="0.8"/>
  <path d="M200,293 Q206,286 214,292 L220,300 M260,293 Q254,286 246,292 L240,300" stroke-width="1"/>
  <path d="M203,300 L215,312 M257,300 L245,312" stroke-width="0.8"/>
  <path d="M150,322 Q145,330 150,338 M310,320 Q315,328 310,336" stroke-width="0.8"/>
  <rect x="160" y="340" width="12" height="6" rx="2" stroke-width="0.8"/>
  <rect x="290" y="340" width="12" height="6" rx="2" stroke-width="0.8"/>
  <path d="M176,329 V340 M186,329 V340 M276,329 V340 M286,329 V340" stroke-width="0.7"/>
  <path d="M226,292 L230,286 L236,286 L240,292" stroke-width="0.9"/>
  <path d="M224,362 Q231,368 238,362" stroke-width="0.8"/>
  <!-- hubs -->
  <path d="M141,320 V352 M147,320 V352 M320,320 V352 M314,320 V352" stroke-width="0.9"/>
 </g>
 <!-- rear tires -->
 <use href="#tire" transform="translate(99.5,272) scale(1,1.003)"/>
 <use href="#tire" transform="translate(322,277.5) scale(1,0.972)"/>
 <path d="M97,262 H145 V284.5 L101,276 L97,276 Z" fill="#cccccc" stroke="none"/>
 <path d="M100.5,276.5 L143,284.5" stroke-width="1.1"/>
 <g transform="translate(0,0)">
  <rect x="128" y="276" width="14" height="9" rx="2" fill="#cccccc" stroke-width="0.9"/>
  <path d="M130,279 H140 M130,282 H140" stroke-width="0.7"/>
 </g>
</g>

<path d="M680.1,400 C682,385 684,372 686,362 C690,350 692,340 693.6,323 C695,312 697,306 700,302 C704,294 710,287 714,285.2 C718,282 720,281.4 722,281 L748.6,275.7 L777,274.2 C781,274.5 784,275.5 786.4,277.3 C790,281 792,285 794.3,288.3 C798,296 802,302 805.3,307.2 C808,312 810,315 811.6,318.2 C813,323 813.5,328 816,331.5 C819,334 821,335 822.6,337.1 C825,342 826.5,348 827.3,354.4 C828.5,362 829,368 829.3,375 L829.8,400 Z" fill="url(#hatch)" stroke="#111" stroke-width="2.6" stroke-linejoin="round"/>
<line x1="508" y1="401" x2="853" y2="401" stroke="#111" stroke-width="2.8"/>
<line x1="604" y1="399" x2="838" y2="231" stroke="#111" stroke-width="1.9"/>
<text class="t" x="0" y="0" font-size="20.5" transform="translate(641.3,392.5) scale(1.0,1)">35°</text>
<path d="M630.5,381 Q633,391 637.8,398" fill="none" stroke="#111" stroke-width="1.8"/>
<polyline points="629.3,385.5 630.3,380.8 634.3,383.3" fill="none" stroke="#111" stroke-width="1.9" stroke-linejoin="round" stroke-linecap="round"/>
<polyline points="634.3,395.3 637.9,398.3 639.9,394" fill="none" stroke="#111" stroke-width="1.9" stroke-linejoin="round" stroke-linecap="round"/>
<circle cx="430.7" cy="0" r="1.3" fill="#111"/>
<circle cx="480.7" cy="0" r="1.3" fill="#111"/>

</svg>
</body></html>
